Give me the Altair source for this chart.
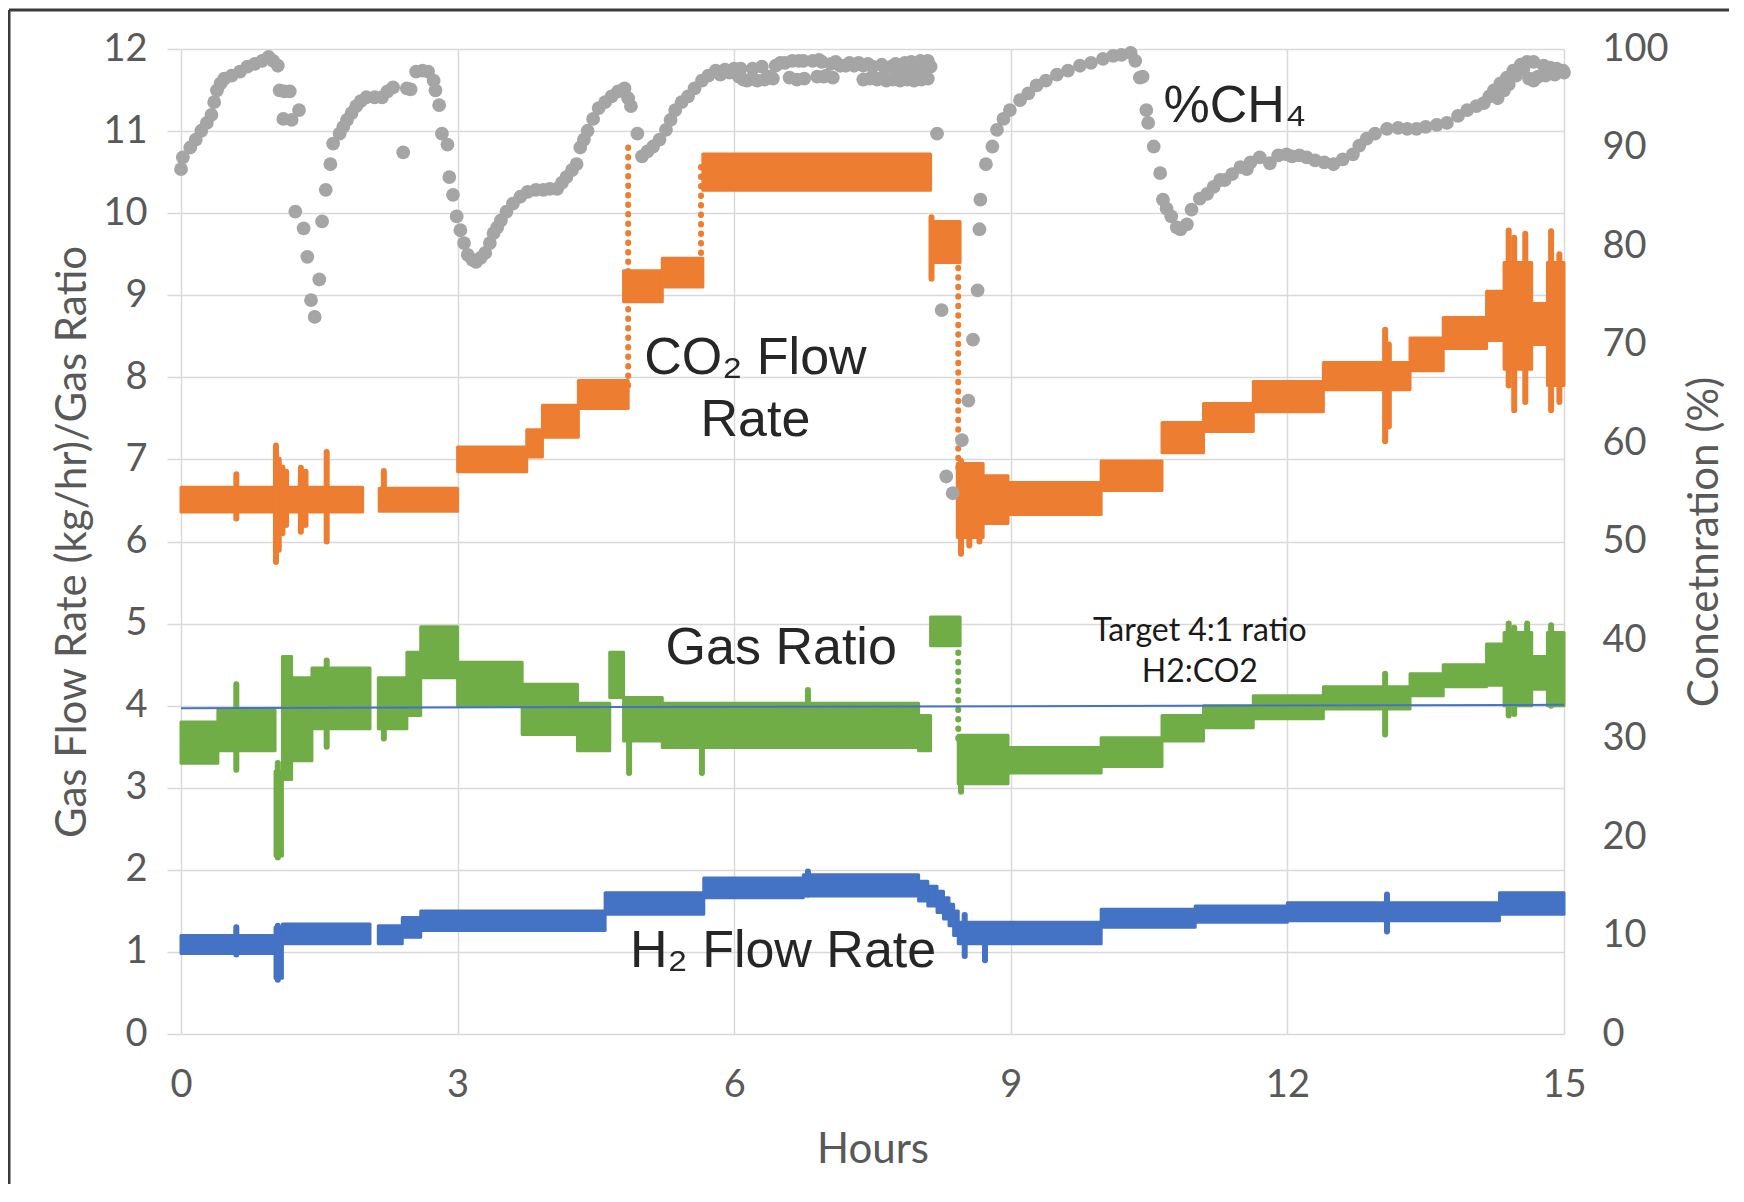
import altair as alt
import pandas as pd

# ---------------- CO2 flow rate (kg/hr): band segments ----------------
co2_t0 = [0.00, 2.15, 3.00, 3.75, 3.92, 4.31, 4.80, 5.22, 5.66, 8.13, 8.42, 8.70, 8.97, 9.98, 10.64, 11.09, 11.63, 12.39, 13.33, 13.69, 14.16, 14.35, 14.65, 14.82]
co2_t1 = [1.97, 3.00, 3.75, 3.92, 4.31, 4.85, 5.22, 5.66, 8.13, 8.45, 8.70, 8.97, 9.98, 10.64, 11.09, 11.63, 12.39, 13.33, 13.69, 14.16, 14.35, 14.65, 14.82, 15.00]
co2_lo = [6.36, 6.37, 6.85, 7.03, 7.27, 7.62, 8.92, 9.10, 10.28, 9.40, 6.05, 6.22, 6.33, 6.62, 7.08, 7.34, 7.58, 7.85, 8.08, 8.35, 8.45, 8.10, 8.40, 7.90]
co2_hi = [6.66, 6.65, 7.15, 7.36, 7.66, 7.96, 9.30, 9.45, 10.72, 9.90, 6.95, 6.80, 6.72, 6.98, 7.45, 7.68, 7.95, 8.18, 8.48, 8.73, 9.05, 9.40, 8.90, 9.40]
co2_sp_t = [0.60, 1.03, 1.06, 1.10, 1.14, 1.30, 1.35, 1.58, 2.20, 8.14, 8.46, 8.55, 8.66, 13.06, 13.10, 14.40, 14.46, 14.58, 14.86, 14.95]
co2_sp_lo = [6.28, 5.75, 5.90, 6.10, 6.20, 6.12, 6.20, 6.00, 6.40, 9.20, 5.85, 5.95, 6.00, 7.22, 7.40, 7.90, 7.60, 7.70, 7.60, 7.70]
co2_sp_hi = [6.82, 7.17, 7.00, 6.90, 6.85, 6.90, 6.85, 7.09, 6.86, 9.95, 6.98, 6.90, 6.90, 8.58, 8.40, 9.79, 9.70, 9.75, 9.78, 9.50]
co2_tr_t = [4.85, 5.64, 8.43]
co2_tr_lo = [7.90, 9.40, 6.90]
co2_tr_hi = [10.80, 10.65, 9.40]

# ---------------- Gas ratio (H2:CO2) ----------------
gr_t0 = [0.00, 0.40, 1.02, 1.10, 1.20, 1.42, 2.14, 2.45, 2.60, 3.00, 3.70, 4.30, 4.65, 4.80, 5.22, 8.00, 8.13, 8.43, 8.97, 9.98, 10.64, 11.09, 11.63, 12.39, 13.33, 13.69, 14.16, 14.35, 14.65, 14.82]
gr_t1 = [0.40, 1.02, 1.10, 1.20, 1.42, 2.05, 2.45, 2.60, 3.00, 3.70, 4.30, 4.65, 4.80, 5.22, 8.00, 8.13, 8.45, 8.97, 9.98, 10.64, 11.09, 11.63, 12.39, 13.33, 13.69, 14.16, 14.35, 14.65, 14.82, 15.00]
gr_lo = [3.30, 3.45, 2.17, 3.10, 3.33, 3.72, 3.72, 3.88, 4.34, 3.99, 3.65, 3.45, 4.10, 3.57, 3.49, 3.45, 4.73, 3.05, 3.18, 3.26, 3.57, 3.73, 3.84, 3.96, 4.12, 4.23, 4.25, 4.00, 4.20, 4.00]
gr_hi = [3.80, 3.95, 3.20, 4.60, 4.34, 4.46, 4.34, 4.65, 4.96, 4.53, 4.26, 4.03, 4.65, 4.10, 4.03, 3.88, 5.08, 3.64, 3.49, 3.61, 3.88, 4.00, 4.12, 4.23, 4.39, 4.50, 4.75, 4.89, 4.60, 4.89]
gr_sp_t = [0.60, 1.05, 1.58, 2.20, 4.86, 5.65, 6.80, 8.46, 13.06, 14.40, 14.46, 14.60, 14.86]
gr_sp_lo = [3.22, 2.15, 3.50, 3.60, 3.18, 3.18, 3.60, 2.95, 3.65, 3.88, 3.90, 4.05, 4.00]
gr_sp_hi = [4.26, 3.30, 4.55, 4.20, 4.00, 3.80, 4.19, 3.60, 4.39, 5.00, 4.95, 5.00, 4.98]
gr_tr_t = [8.43]
gr_tr_lo = [3.60]
gr_tr_hi = [4.80]

# ---------------- H2 flow rate (kg/hr) ----------------
h2_t0 = [0.00, 1.02, 1.10, 2.14, 2.40, 2.60, 4.60, 5.67, 6.75, 8.00, 8.10, 8.20, 8.27, 8.33, 8.38, 8.43, 9.98, 11.00, 12.00, 14.30]
h2_t1 = [1.02, 1.10, 2.05, 2.40, 2.60, 4.60, 5.67, 6.75, 8.00, 8.10, 8.20, 8.27, 8.33, 8.38, 8.43, 9.98, 11.00, 12.00, 14.30, 15.00]
h2_lo = [0.98, 0.68, 1.10, 1.10, 1.18, 1.26, 1.46, 1.66, 1.68, 1.62, 1.56, 1.48, 1.40, 1.32, 1.20, 1.10, 1.30, 1.36, 1.38, 1.46]
h2_hi = [1.20, 1.30, 1.34, 1.32, 1.42, 1.50, 1.72, 1.90, 1.94, 1.86, 1.80, 1.74, 1.66, 1.58, 1.50, 1.36, 1.52, 1.56, 1.60, 1.72]
h2_sp_t = [0.60, 1.05, 6.80, 8.50, 8.72, 13.08]
h2_sp_lo = [0.97, 0.66, 1.70, 0.95, 0.90, 1.25]
h2_sp_hi = [1.30, 1.32, 1.98, 1.45, 1.30, 1.70]

# ---------------- %CH4 (right axis, %) ----------------
ch4_t = [0.00, 0.02, 0.10, 0.16, 0.22, 0.28, 0.33, 0.36, 0.39, 0.43, 0.47, 0.55, 0.64, 0.72, 0.80, 0.88, 0.95, 1.00, 1.05, 1.07, 1.12, 1.18, 1.11, 1.20, 1.28,
         1.24, 1.33, 1.37, 1.41, 1.45, 1.50, 1.53, 1.57, 1.62, 1.65, 1.72, 1.76, 1.80, 1.85, 1.90, 1.95, 2.01, 2.10, 2.18, 2.24, 2.30, 2.41, 2.45, 2.49, 2.55,
         2.62, 2.68, 2.74, 2.76, 2.80, 2.83, 2.89, 2.91, 2.95, 2.99, 3.03, 3.07, 3.11, 3.16, 3.20, 3.25, 3.30, 3.35, 3.39, 3.43, 3.47, 3.53, 3.60, 3.68, 3.76,
         3.85, 3.93, 4.00, 4.08, 4.13, 4.18, 4.24, 4.29, 4.33, 4.37, 4.41, 4.47, 4.53, 4.60, 4.67, 4.74, 4.81, 4.85, 4.88, 4.95, 5.00, 5.06, 5.12, 5.19, 5.26,
         5.31, 5.36, 5.43, 5.50, 5.57, 5.65, 5.72, 5.80, 5.90, 6.00, 6.07, 6.14, 6.20, 6.30, 6.38, 6.45, 6.55, 6.63, 6.75, 6.85, 6.92, 6.97, 7.05, 7.15, 7.21,
         7.30, 7.40, 7.50, 7.55, 7.62, 7.70, 7.80, 7.87, 7.94, 8.00, 8.07, 8.13, 8.20, 8.25, 8.30, 8.37, 8.47, 8.54, 8.59, 8.64, 8.66, 8.67, 8.73, 8.80, 8.85,
         8.92, 8.99, 9.10, 9.19, 9.28, 9.38, 9.50, 9.62, 9.75, 9.87, 10.00, 10.11, 10.20, 10.30, 10.35, 10.40, 10.43, 10.47, 10.49, 10.55, 10.62, 10.65, 10.69, 10.74, 10.80,
         10.84, 10.91, 10.96, 11.05, 11.13, 11.20, 11.27, 11.32, 11.40, 11.49, 11.56, 11.60, 11.70, 11.81, 11.90, 11.99, 12.05, 12.13, 12.21, 12.30, 12.40, 12.50, 12.60, 12.71, 12.78,
         12.86, 12.95, 13.08, 13.20, 13.30, 13.40, 13.50, 13.62, 13.73, 13.85, 13.95, 14.05, 14.13, 14.19, 14.24, 14.31, 14.38, 14.45, 14.53, 14.60, 14.67, 14.67, 14.72, 14.78, 14.85,
         14.92, 14.99,
         # lower row of the dense plateau and final stretch
         5.85, 5.95, 6.05, 6.10, 6.20, 6.25, 6.33, 6.42, 6.60, 6.68, 6.76, 6.90, 7.00, 7.07, 7.40, 7.47, 7.55, 7.65, 7.72, 7.80, 7.88, 7.95, 8.03, 8.10,
         6.50, 6.70, 6.95, 7.10, 7.25, 7.35, 7.45, 7.60, 7.75, 7.85, 7.92, 8.02, 8.10,
         14.62, 14.70, 14.80, 14.90, 15.00, 14.40, 14.48, 14.56, 14.28, 14.35]
ch4_pct = [87.8, 89.0, 90.0, 90.8, 91.7, 92.5, 93.3, 94.6, 95.8, 96.5, 97.0, 97.3, 97.7, 98.2, 98.5, 98.8, 99.2, 98.8, 98.3, 95.8, 95.7, 95.7, 92.9, 92.8, 93.8,
           83.5, 81.8, 78.9, 74.5, 72.8, 76.6, 82.5, 85.7, 88.3, 90.4, 91.4, 92.1, 92.8, 93.5, 94.2, 94.7, 95.1, 95.1, 95.1, 95.7, 96.1, 89.5, 96.0, 95.9, 97.7,
           97.8, 97.7, 96.8, 95.8, 94.3, 91.4, 90.3, 87.0, 85.2, 83.0, 81.6, 80.3, 79.1, 78.6, 78.4, 78.8, 79.3, 80.3, 81.3, 81.9, 82.6, 83.5, 84.3, 85.0, 85.5,
           85.7, 85.7, 85.8, 85.8, 86.4, 87.0, 87.7, 88.3, 90.0, 90.8, 91.7, 92.9, 94.0, 94.6, 95.2, 95.7, 96.0, 95.0, 94.2, 91.4, 89.1, 89.6, 90.1, 90.8, 91.8,
           92.8, 93.8, 94.6, 95.2, 96.0, 96.8, 97.3, 97.8, 97.9, 98.0, 98.0, 96.8, 98.0, 98.2, 97.2, 98.3, 98.6, 98.8, 98.8, 98.8, 98.9, 97.2, 98.5, 98.3, 98.3,
           98.3, 98.3, 98.2, 97.0, 97.2, 98.2, 97.7, 97.0, 97.8, 97.5, 97.9, 98.2, 91.4, 73.5, 56.6, 54.9, 60.3, 64.3, 70.5, 75.5, 81.7, 84.7, 88.3, 90.1, 91.8,
           92.9, 93.8, 94.8, 95.5, 96.3, 96.8, 97.4, 97.8, 98.3, 98.6, 99.0, 99.3, 99.4, 99.6, 98.8, 97.1, 97.2, 93.8, 92.5, 90.1, 87.4, 84.7, 83.8, 83.0, 81.9,
           81.7, 82.2, 83.7, 84.8, 85.3, 86.0, 86.7, 86.7, 87.3, 88.0, 87.8, 88.5, 89.0, 88.4, 89.2, 89.3, 89.1, 89.2, 89.0, 88.7, 88.5, 88.3, 88.8, 89.3, 90.2,
           90.9, 91.4, 91.9, 92.0, 91.9, 91.9, 92.1, 92.3, 92.5, 93.2, 93.8, 94.2, 94.5, 95.2, 95.8, 96.5, 97.1, 97.8, 98.4, 98.7, 98.7, 96.8, 97.2, 98.3, 98.1,
           98.0, 97.8,
           97.4, 97.6, 97.2, 96.9, 97.0, 96.8, 96.9, 97.0, 97.1, 96.9, 97.0, 97.2, 97.3, 97.1, 96.9, 97.0, 96.9, 96.8, 96.9, 96.8, 96.9, 96.8, 96.9, 97.0,
           98.6, 98.8, 98.7, 98.7, 98.6, 98.6, 98.5, 98.4, 98.5, 98.6, 98.7, 98.8, 98.8,
           97.0, 97.1, 97.3, 97.4, 97.6, 96.4, 97.3, 98.0, 95.0, 95.8]

# ---------------- target ratio line & annotations ----------------
target_t = [0.0, 15.0]
target_v = [3.97, 4.01]
ann_label = ["CO\u2082 Flow", "Rate", "%CH\u2084", "Gas Ratio", "H\u2082 Flow Rate"]
ann_t = [6.23, 6.23, 11.43, 6.51, 6.53]
ann_v = [8.23, 7.48, 11.30, 4.70, 1.01]
tgt_label = ["Target 4:1 ratio", "H2:CO2"]
tgt_t = [11.05, 11.05]
tgt_v = [4.91, 4.41]

ORANGE = "#ED7D31"
GREEN = "#70AD47"
BLUE = "#4472C4"
GRAY = "#A5A5A5"
AXC = "#595959"
GRID = "#d9d9d9"

W, H = 1383, 985

xscale = alt.Scale(domain=[0, 15], nice=False, zero=False)
yscale = alt.Scale(domain=[0, 12], nice=False)
rscale = alt.Scale(domain=[0, 100], nice=False)

xaxis = alt.Axis(values=[0, 3, 6, 9, 12, 15], title="Hours", grid=True, gridColor=GRID, gridWidth=1.5,
                 domain=False, ticks=False, tickSize=0, labelFlush=False, labelFont="Lato", labelFontSize=38,
                 labelColor=AXC, labelBaseline="middle", labelPadding=51, titleFont="Lato", titleFontSize=42,
                 titleFontWeight="normal", titleColor=AXC, titleBaseline="middle", titleY=115, titleX=W / 2)
yaxis = alt.Axis(values=list(range(0, 13)), title="Gas Flow Rate (kg/hr)/Gas Ratio", grid=True, gridColor=GRID,
                 gridWidth=1.5, domain=False, ticks=True, tickSize=14, tickColor=GRID, tickWidth=1.5,
                 labelFlush=False, labelFont="Lato", labelFontSize=38, labelColor=AXC, labelPadding=20,
                 titleFont="Lato", titleFontSize=42, titleFontWeight="normal", titleColor=AXC,
                 titleAngle=270, titleBaseline="middle", titleX=-109, titleY=H / 2)
raxis = alt.Axis(values=list(range(0, 101, 10)), orient="right", title="Concetnration (%)", grid=False,
                 domain=False, ticks=False, tickSize=0, labelFlush=False, labelFont="Lato", labelFontSize=38,
                 labelColor=AXC, labelPadding=38, titleFont="Lato", titleFontSize=42, titleFontWeight="normal",
                 titleColor=AXC, titleAngle=270, titleBaseline="middle", titleX=140, titleY=H / 2)


def seg_df(t0, t1, lo, hi):
    return pd.DataFrame({"t0": t0, "t1": t1, "lo": lo, "hi": hi})


def pt_df(t, lo, hi):
    return pd.DataFrame({"t": t, "lo": lo, "hi": hi})


def band(df, color):
    return alt.Chart(df).mark_rect(color=color, stroke=color, strokeWidth=3, strokeJoin="round").encode(
        x=alt.X("t0:Q", scale=xscale, axis=xaxis),
        x2="t1:Q",
        y=alt.Y("lo:Q", scale=yscale, axis=yaxis),
        y2="hi:Q",
    )


def spikes(df, color, width=6):
    return alt.Chart(df).mark_rule(color=color, strokeWidth=width, strokeCap="round").encode(
        x=alt.X("t:Q", scale=xscale, axis=xaxis),
        y=alt.Y("lo:Q", scale=yscale, axis=yaxis),
        y2="hi:Q",
    )


def dotted(df, color):
    return alt.Chart(df).mark_rule(color=color, strokeWidth=6, strokeCap="round", strokeDash=[0.5, 9]).encode(
        x=alt.X("t:Q", scale=xscale, axis=xaxis),
        y=alt.Y("lo:Q", scale=yscale, axis=yaxis),
        y2="hi:Q",
    )


h2_layers = [band(seg_df(h2_t0, h2_t1, h2_lo, h2_hi), BLUE), spikes(pt_df(h2_sp_t, h2_sp_lo, h2_sp_hi), BLUE)]
gr_layers = [band(seg_df(gr_t0, gr_t1, gr_lo, gr_hi), GREEN), spikes(pt_df(gr_sp_t, gr_sp_lo, gr_sp_hi), GREEN),
             dotted(pt_df(gr_tr_t, gr_tr_lo, gr_tr_hi), GREEN)]
co2_layers = [band(seg_df(co2_t0, co2_t1, co2_lo, co2_hi), ORANGE),
              spikes(pt_df(co2_sp_t, co2_sp_lo, co2_sp_hi), ORANGE),
              dotted(pt_df(co2_tr_t, co2_tr_lo, co2_tr_hi), ORANGE)]

target = alt.Chart(pd.DataFrame({"t": target_t, "v": target_v})).mark_line(color=BLUE, strokeWidth=2).encode(
    x=alt.X("t:Q", scale=xscale, axis=xaxis),
    y=alt.Y("v:Q", scale=yscale, axis=yaxis),
)

ann = alt.Chart(pd.DataFrame({"t": ann_t, "v": ann_v, "label": ann_label})).mark_text(
    font="Liberation Sans, DejaVu Sans", fontSize=52, color="#262626", align="center", baseline="middle"
).encode(
    x=alt.X("t:Q", scale=xscale, axis=xaxis),
    y=alt.Y("v:Q", scale=yscale, axis=yaxis),
    text="label:N",
)

tgt = alt.Chart(pd.DataFrame({"t": tgt_t, "v": tgt_v, "label": tgt_label})).mark_text(
    font="Lato", fontSize=32, color="#1a1a1a", align="center", baseline="middle"
).encode(
    x=alt.X("t:Q", scale=xscale, axis=xaxis),
    y=alt.Y("v:Q", scale=yscale, axis=yaxis),
    text="label:N",
)

frame_src = pd.DataFrame({"k": [0]})
frame_top = alt.Chart(frame_src).mark_rule(color="#3a3a3a", strokeWidth=3).encode(
    x=alt.value(-172), x2=alt.value(W + 165), y=alt.value(-39))
frame_left = alt.Chart(frame_src).mark_rule(color="#3a3a3a", strokeWidth=3).encode(
    x=alt.value(-172), y=alt.value(-39), y2=alt.value(H + 150))

left = alt.layer(*h2_layers, *gr_layers, *co2_layers, target, ann, tgt, frame_top, frame_left)

ch4 = alt.Chart(pd.DataFrame({"t": ch4_t, "pct": ch4_pct})).mark_circle(color=GRAY, opacity=1, size=190).encode(
    x=alt.X("t:Q", scale=xscale, axis=xaxis),
    y=alt.Y("pct:Q", scale=rscale, axis=raxis),
)

chart = alt.layer(left, ch4).resolve_scale(y="independent").properties(
    width=W, height=H,
    autosize=alt.AutoSizeParams(type="none"),
    padding={"left": 173, "top": 41, "right": 165, "bottom": 150},
    background="white",
).configure_view(stroke=None)

chart.save("out.html", embed_options={"renderer": "svg", "actions": False})
